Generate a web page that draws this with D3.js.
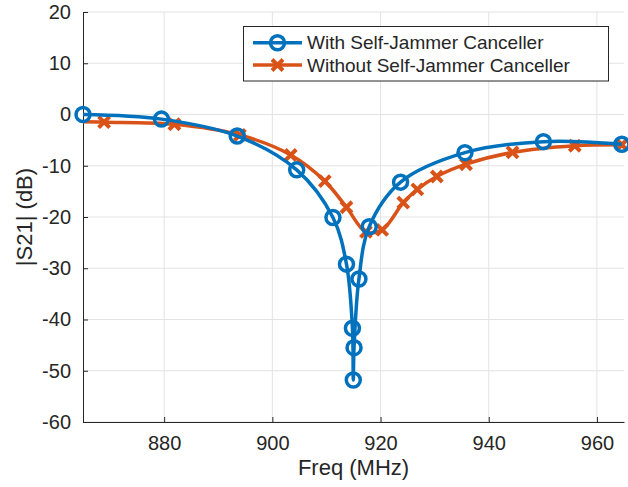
<!DOCTYPE html>
<html>
<head>
<meta charset="utf-8">
<script src="https://cdn.jsdelivr.net/npm/d3@7"></script>
<style>
  body { margin: 0; background: #fff; }
  text { font-family: "Liberation Sans", Arial, sans-serif; fill: #262626; }
</style>
</head>
<body>
<div class="chart"></div>
<script>
// |S21| measured with and without the self-jammer canceller
const freqWith = [865, 879.5, 893.5, 904.5, 911.2, 913.7, 914.8, 914.96, 915.1, 916.0, 917.9, 923.7, 935.6, 950.1, 964.6];
const s21With  = [0, -0.9, -4.2, -10.8, -20.1, -29.2, -41.7, -51.8, -45.5, -32.1, -21.9, -13.2, -7.45, -5.3, -5.8];

// first sample sits on the left axis edge and has no marker
const freqWithout = [865, 868.9, 881.9, 894.0, 903.4, 909.7, 913.7, 917.3, 920.3, 924.2, 926.8, 930.4, 935.8, 944.4, 955.9, 964.6];
const s21Without  = [-1.4, -1.5, -1.9, -4.0, -7.9, -13.0, -18.1, -22.9, -22.5, -17.2, -14.6, -12.1, -9.7, -7.4, -6.1, -5.9];

const xTicks = [880, 900, 920, 940, 960];
const yTicks = [-60, -50, -40, -30, -20, -10, 0, 10, 20];
const seriesNames = ["With Self-Jammer Canceller", "Without Self-Jammer Canceller"];

const width = 628, height = 487;
const plotLeft = 83, plotRight = 624, plotTop = 12, plotBottom = 422;
const blue = "#0072BD", orange = "#D95319";

const svg = d3.select(".chart").append("svg")
    .attr("width", width)
    .attr("height", height);

const x = d3.scaleLinear().domain([865, 965]).range([plotLeft, plotRight]);
const y = d3.scaleLinear().domain([-60, 20]).range([plotBottom, plotTop]);

// grid
svg.append("g").selectAll("line")
    .data(xTicks)
    .join("line")
    .attr("x1", d => x(d)).attr("x2", d => x(d))
    .attr("y1", plotTop).attr("y2", plotBottom)
    .attr("stroke", "#e3e3e3");
svg.append("g").selectAll("line")
    .data(yTicks)
    .join("line")
    .attr("x1", plotLeft).attr("x2", plotRight)
    .attr("y1", d => y(d)).attr("y2", d => y(d))
    .attr("stroke", "#e3e3e3");

// axes, ticks pointing inside; plain hyphen for negatives like the original
const xAxis = svg.append("g")
    .attr("transform", `translate(0,${plotBottom})`)
    .call(d3.axisBottom(x).tickValues(xTicks).tickFormat(d => String(d))
        .tickSizeInner(-5).tickSizeOuter(0).tickPadding(14));
const yAxis = svg.append("g")
    .attr("transform", `translate(${plotLeft},0)`)
    .call(d3.axisLeft(y).tickValues(yTicks).tickFormat(d => String(d))
        .tickSizeInner(-5).tickSizeOuter(0).tickPadding(12));
[xAxis, yAxis].forEach(a => {
    a.select(".domain").attr("stroke", "#262626");
    a.selectAll(".tick line").attr("stroke", "#262626");
    a.selectAll(".tick text").attr("font-size", 20).attr("fill", "#262626")
        .attr("font-family", "Liberation Sans, Arial, sans-serif");
});
xAxis.selectAll(".tick text").attr("dy", "0.71em");

svg.append("text")
    .attr("x", (plotLeft + plotRight) / 2)
    .attr("y", 475)
    .attr("text-anchor", "middle")
    .attr("font-size", 22)
    .text("Freq (MHz)");
svg.append("text")
    .attr("transform", `translate(32,${(plotTop + plotBottom) / 2}) rotate(-90)`)
    .attr("text-anchor", "middle")
    .attr("font-size", 22)
    .text("|S21| (dB)");

const dataWith = freqWith.map((f, i) => [f, s21With[i]]);
const dataWithout = freqWithout.map((f, i) => [f, s21Without[i]]);

const line = d3.line()
    .x(d => x(d[0]))
    .y(d => y(d[1]))
    .curve(d3.curveCatmullRom.alpha(0.5));

svg.append("defs").append("clipPath").attr("id", "plot-area")
    .append("rect").attr("x", plotLeft).attr("y", plotTop)
    .attr("width", plotRight - plotLeft).attr("height", plotBottom - plotTop);

const plot = svg.append("g");

function crossPath(cx, cy, s) {
    return `M${cx - s},${cy - s}L${cx + s},${cy + s}M${cx - s},${cy + s}L${cx + s},${cy - s}`;
}

plot.append("path")
    .datum(dataWithout)
    .attr("clip-path", "url(#plot-area)")
    .attr("d", line)
    .attr("fill", "none")
    .attr("stroke", orange)
    .attr("stroke-width", 3.5);
plot.append("g").selectAll("path")
    .data(dataWithout.filter((d, i) => i > 0))
    .join("path")
    .attr("d", d => crossPath(x(d[0]), y(d[1]), 5.5))
    .attr("stroke", orange)
    .attr("stroke-width", 4);

plot.append("path")
    .datum(dataWith)
    .attr("clip-path", "url(#plot-area)")
    .attr("d", line)
    .attr("fill", "none")
    .attr("stroke", blue)
    .attr("stroke-width", 3.5);
plot.append("g").selectAll("circle")
    .data(dataWith)
    .join("circle")
    .attr("cx", d => x(d[0]))
    .attr("cy", d => y(d[1]))
    .attr("r", 7)
    .attr("fill", "none")
    .attr("stroke", blue)
    .attr("stroke-width", 3.5);

// legend
const legend = svg.append("g");
legend.append("rect")
    .attr("x", 243.5).attr("y", 26.5)
    .attr("width", 365).attr("height", 54.5)
    .attr("fill", "#fff")
    .attr("stroke", "#262626");
const rows = [42.7, 65];
seriesNames.forEach((name, i) => {
    const color = i === 0 ? blue : orange;
    legend.append("line")
        .attr("x1", 253).attr("x2", 302)
        .attr("y1", rows[i]).attr("y2", rows[i])
        .attr("stroke", color).attr("stroke-width", 3.5);
    if (i === 0) {
        legend.append("circle")
            .attr("cx", 277.5).attr("cy", rows[i]).attr("r", 7)
            .attr("fill", "none").attr("stroke", color).attr("stroke-width", 3.5);
    } else {
        legend.append("path")
            .attr("d", crossPath(277.5, rows[i], 5.5))
            .attr("stroke", color).attr("stroke-width", 4);
    }
    legend.append("text")
        .attr("x", 307)
        .attr("y", rows[i])
        .attr("dy", "0.35em")
        .attr("font-size", 19)
        .text(name);
});
</script>
</body>
</html>
